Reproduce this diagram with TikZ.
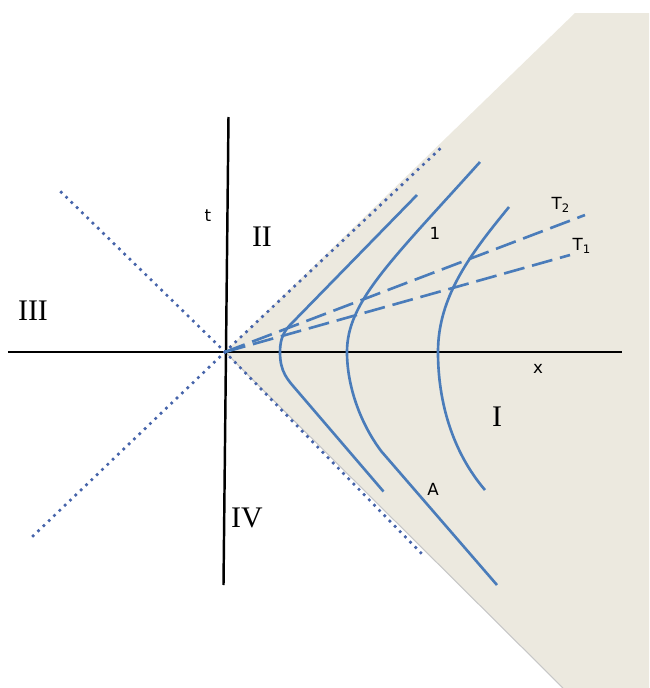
\documentclass[tikz,border=0pt]{standalone}
\usepackage{fontspec}
\newfontfamily\labsans{DejaVu Sans}
\newfontfamily\labserif{Liberation Serif}
\usepackage{tikz}
\usetikzlibrary{calc,positioning}
\definecolor{wedgec}{RGB}{236,233,223}
\definecolor{hypc}{RGB}{74,124,186}
\definecolor{dotc}{RGB}{70,100,170}
\tikzset{
  axis/.style={line width=1.4pt,black},
  hyp/.style={line width=1.5pt,hypc},
  slice/.style={line width=1.5pt,hypc,dash pattern=on 12pt off 4.5pt},
  cone/.style={line width=2.1pt,dotc,line cap=round,dash pattern=on 0pt off 4.2pt},
  reg/.style={font=\labserif\fontsize{17}{20}\selectfont,inner sep=0pt},
  lab/.style={font=\labsans\fontsize{9.5}{11}\selectfont,inner sep=0pt},
}
\begin{document}
\begin{tikzpicture}
  \useasboundingbox (-4.5,-6.72) rectangle (8.48,7.04);
  % wedge
  \fill[wedgec] (0,0) -- (7.0,6.78) -- (8.48,6.78) -- (8.48,-6.72) -- (6.76,-6.72) -- cycle;
  \draw[black!22,line width=0.6pt] (0,0) -- (6.76,-6.72);
  % axes
  \coordinate (o) at (0,0);
  \coordinate (xl) at (-4.34,0); \coordinate (xr) at (7.94,0);
  \coordinate (tb) at (-0.03,-4.66); \coordinate (tt) at (0.07,4.70);
  \draw[axis] (xl) -- (xr); \draw[axis] (tb) -- (tt);
  % light cone
  \foreach \n/\x/\y in {ur/4.38/4.14, ul/-3.34/3.26, ll/-3.84/-3.68, lr/3.96/-4.06}{
     \coordinate (\n) at (\x,\y);
     \draw[cone] (o) -- (\n);}
  % hyperbolae
  \draw[hyp] (3.84,3.14) -- (1.34,0.58) .. controls (1.2,0.44) and (1.10,0.3) .. (1.10,0)
     .. controls (1.10,-0.4) and (1.25,-0.55) .. (1.43,-0.76) -- (3.17,-2.79);
  \draw[hyp] (5.10,3.80) .. controls (3.3,1.8) and (2.44,1.0) .. (2.44,0)
     .. controls (2.44,-0.7) and (2.72,-1.45) .. (3.13,-1.99) -- (5.44,-4.66);
  \draw[hyp] (5.68,2.90) .. controls (4.9,1.95) and (4.26,1.1) .. (4.26,0)
     .. controls (4.26,-1.0) and (4.55,-2.0) .. (5.20,-2.76);
  % time slices
  \coordinate (s2) at (7.2,2.74); \coordinate (s1) at (6.9,1.94);
  \draw[slice] (o) -- (s2); \draw[slice] (o) -- (s1);
  % labels
  \node[reg] (r1) at (5.44,-1.30) {I};
  \node[reg] (r2) at (0.74,2.30) {II};
  \node[reg] (r3) at (-3.84,0.82) {III};
  \node[reg] (r4) at (0.44,-3.32) {IV};
  \node[lab] (tl) at (-0.34,2.72) {t};
  \node[lab] (xlab) at (6.26,-0.34) {x};
  \node[lab] (one) at (4.2,2.38) {1};
  \node[lab] (alab) at (4.16,-2.74) {A};
  \node[lab] (T2) at (6.72,2.94) {T\textsubscript{2}};
  \node[lab] (T1) at (7.14,2.12) {T\textsubscript{1}};
\end{tikzpicture}
\end{document}
